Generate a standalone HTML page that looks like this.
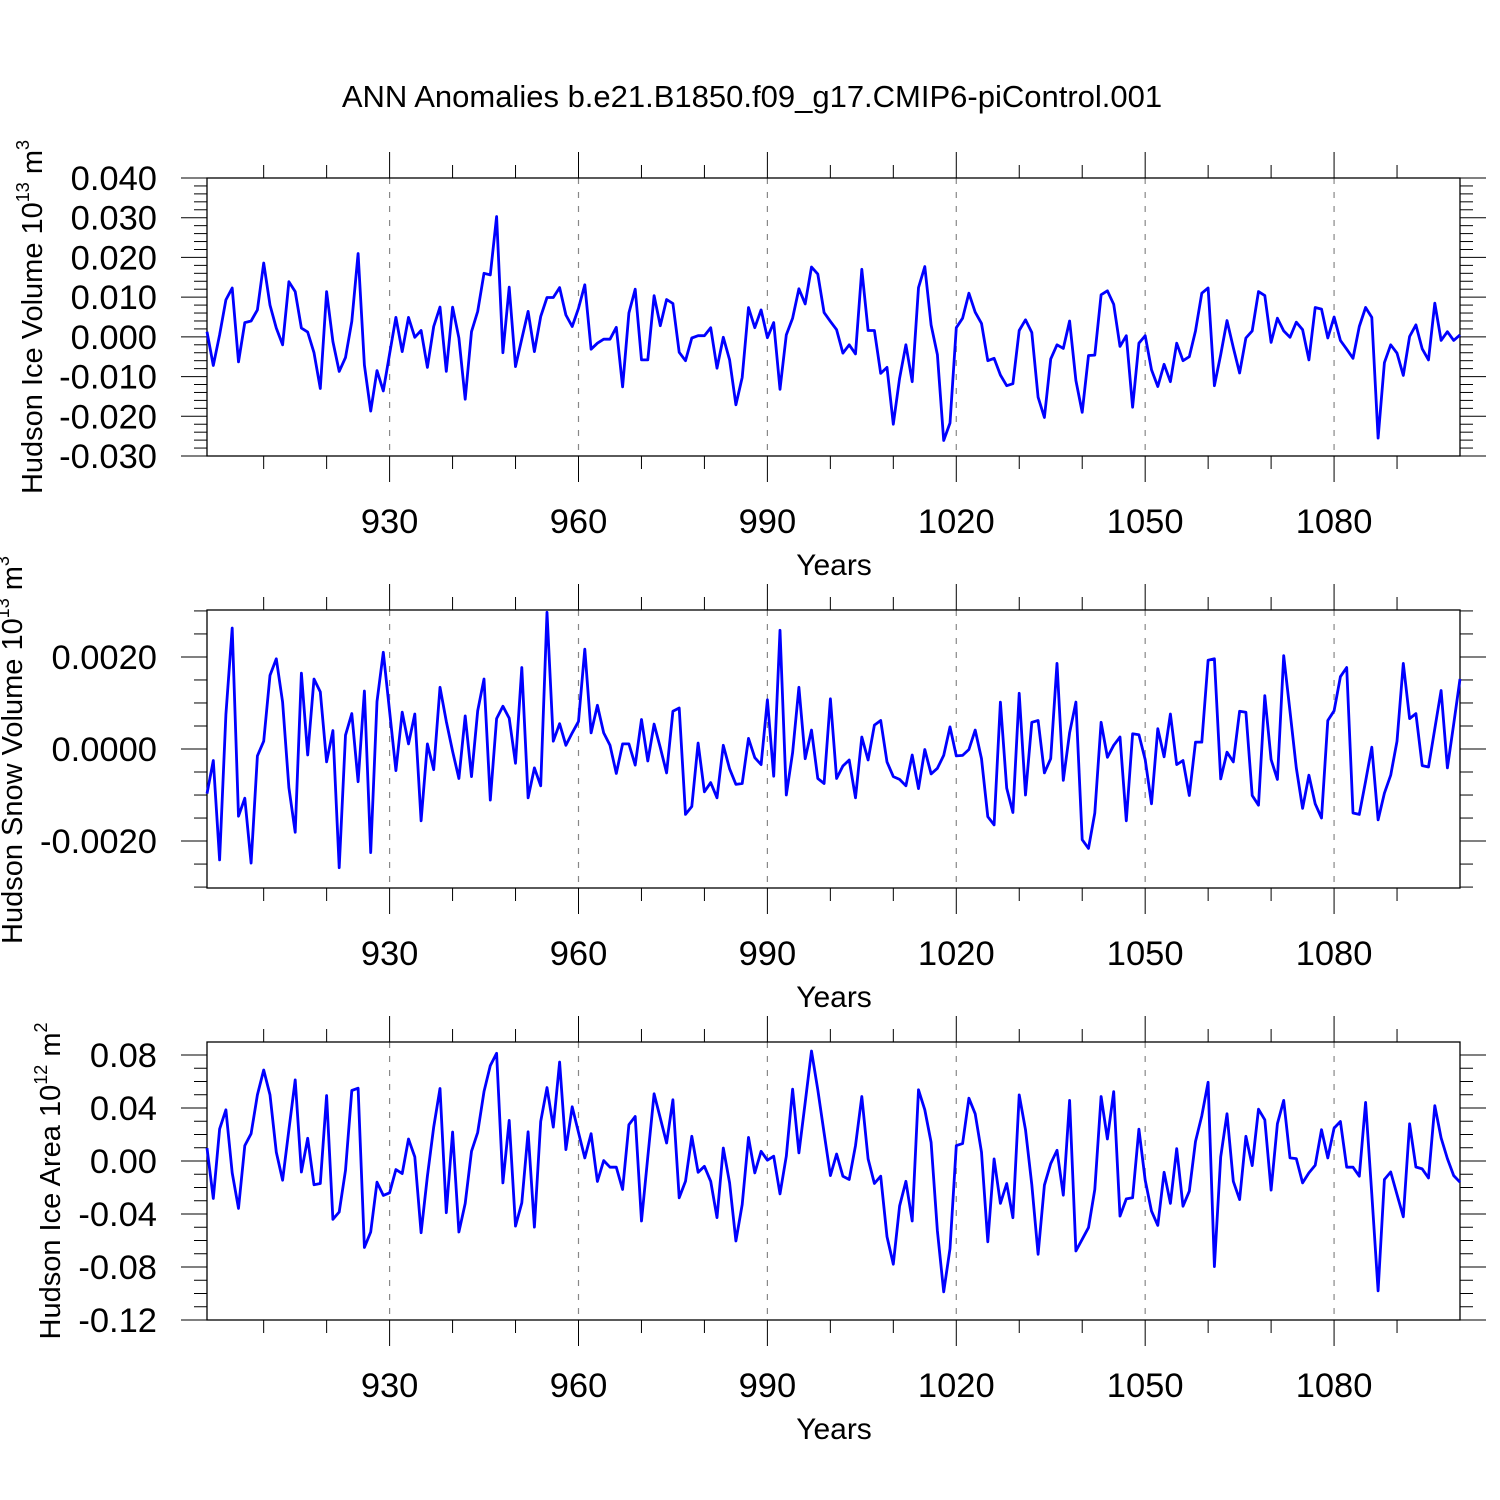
<!DOCTYPE html>
<html><head><meta charset="utf-8"><style>
html,body{margin:0;padding:0;background:#fff;}
svg{display:block;font-family:"Liberation Sans",sans-serif;}
</style></head><body>
<svg id="chart" width="1500" height="1500" viewBox="0 0 1500 1500" xmlns="http://www.w3.org/2000/svg">
<rect width="1500" height="1500" fill="#fff"/>
<text x="752" y="107" font-size="31" text-anchor="middle">ANN Anomalies b.e21.B1850.f09_g17.CMIP6-piControl.001</text>
<g id="panels"></g>
</svg>
<script>
const years = [];
for (let y = 901; y <= 1100; y++) years.push(y);
const xTickLabels = [930, 960, 990, 1020, 1050, 1080];

const iceVolume = [0.0013,-0.0072,0.0005,0.0093,0.0123,-0.0063,0.0036,0.004,0.0068,0.0186,
0.008,0.0022,-0.002,0.0139,0.0114,0.0022,0.0012,-0.004,-0.013,0.0114,
-0.0012,-0.0087,-0.0052,0.0039,0.021,-0.0071,-0.0187,-0.0085,-0.0136,-0.0043,
0.0049,-0.0037,0.0049,-0.0001,0.0016,-0.0077,0.0026,0.0075,-0.0087,0.0075,
-0.0003,-0.0157,0.0013,0.0064,0.016,0.0156,0.0303,-0.004,0.0125,-0.0075,
-0.0005,0.0064,-0.0037,0.0051,0.0099,0.0099,0.0124,0.0055,0.0026,0.0072,
0.0131,-0.0031,-0.0016,-0.0006,-0.0006,0.0024,-0.0126,0.006,0.012,-0.0058,
-0.0058,0.0104,0.0028,0.0094,0.0084,-0.0039,-0.006,-0.0003,0.0003,0.0003,
0.0023,-0.0079,-0.0001,-0.0058,-0.0171,-0.0102,0.0074,0.0023,0.0068,-0.0002,
0.0036,-0.0132,0.0005,0.0047,0.0121,0.0083,0.0176,0.0158,0.0061,0.0039,
0.0018,-0.0041,-0.002,-0.0043,0.017,0.0016,0.0016,-0.0092,-0.0077,-0.022,
-0.0104,-0.002,-0.0113,0.0124,0.0177,0.003,-0.0045,-0.0261,-0.0217,0.0023,
0.0047,0.011,0.0062,0.0034,-0.006,-0.0054,-0.0096,-0.0123,-0.0118,0.0016,
0.0043,0.0011,-0.0152,-0.0203,-0.0056,-0.002,-0.0029,0.004,-0.011,-0.019,
-0.0047,-0.0046,0.0106,0.0116,0.0082,-0.0024,0.0003,-0.0177,-0.0016,0.0003,
-0.0083,-0.0125,-0.0069,-0.0113,-0.0016,-0.006,-0.005,0.0015,0.011,0.0123,
-0.0123,-0.0045,0.0041,-0.0027,-0.0091,-0.0003,0.0015,0.0114,0.0104,-0.0014,
0.0047,0.0015,-0.0001,0.0037,0.0018,-0.0058,0.0074,0.007,-0.0003,0.005,
-0.0009,-0.0031,-0.0054,0.0026,0.0074,0.0049,-0.0255,-0.0065,-0.002,-0.0041,
-0.0097,0.0001,0.003,-0.003,-0.0058,0.0085,-0.0009,0.0013,-0.0009,0.0005];

const snowVolume = [-0.00097,-0.00025,-0.00241,0.00075,0.00263,-0.00146,-0.00107,-0.00248,-0.00015,0.00017,
0.0016,0.00196,0.00102,-0.00084,-0.00181,0.00165,-0.00013,0.00152,0.00124,-0.00028,
0.0004,-0.00258,0.0003,0.00077,-0.00071,0.00126,-0.00225,0.00103,0.0021,0.00082,
-0.00047,0.0008,0.00011,0.00076,-0.00156,0.00011,-0.00045,0.00134,0.0006,-0.00005,
-0.00064,0.00072,-0.0006,0.00083,0.00152,-0.00111,0.00066,0.00093,0.00067,-0.00031,
0.00177,-0.00106,-0.00041,-0.0008,0.00297,0.00017,0.00055,0.00008,0.00035,0.0006,
0.00217,0.00035,0.00095,0.00035,0.00008,-0.00053,0.00011,0.00011,-0.00035,0.00064,
-0.00026,0.00054,0.00003,-0.00052,0.00082,0.00089,-0.00142,-0.00125,0.00013,-0.00093,
-0.00073,-0.00106,0.00008,-0.00043,-0.00077,-0.00075,0.00023,-0.00019,-0.00034,0.00107,
-0.00059,0.00258,-0.001,-0.00008,0.00134,-0.00021,0.00041,-0.00064,-0.00075,0.00109,
-0.00064,-0.00037,-0.00024,-0.00106,0.00026,-0.00024,0.00052,0.00062,-0.00028,-0.0006,
-0.00066,-0.0008,-0.00013,-0.00086,-0.00001,-0.00054,-0.00042,-0.00014,0.00048,-0.00015,
-0.00014,-0.00001,0.00041,-0.00021,-0.00147,-0.00165,0.00102,-0.00085,-0.00138,0.00121,
-0.001,0.00058,0.00062,-0.00052,-0.00021,0.00186,-0.00068,0.00035,0.00102,-0.00197,
-0.00216,-0.00139,0.00058,-0.00018,0.00008,0.00026,-0.00156,0.00033,0.00031,-0.00023,
-0.00119,0.00044,-0.00017,0.00076,-0.00034,-0.00025,-0.00101,0.00015,0.00015,0.00193,
0.00196,-0.00065,-0.00007,-0.00028,0.00082,0.0008,-0.00101,-0.00122,0.00116,-0.00023,
-0.00066,0.00203,0.00082,-0.00041,-0.00129,-0.00057,-0.00119,-0.0015,0.00062,0.00083,
0.00157,0.00177,-0.00139,-0.00142,-0.0007,0.00004,-0.00154,-0.00096,-0.00057,0.00017,
0.00186,0.00066,0.00077,-0.00036,-0.00039,0.00044,0.00127,-0.00041,0.00054,0.00152];

const iceArea = [0.0098,-0.0283,0.0241,0.0386,-0.009,-0.0358,0.0116,0.0206,0.0499,0.0687,
0.0499,0.0066,-0.0145,0.0236,0.0612,-0.0083,0.0171,-0.018,-0.017,0.0494,
-0.044,-0.0385,-0.007,0.0532,0.0549,-0.0653,-0.0536,-0.016,-0.026,-0.024,
-0.0065,-0.0095,0.0166,0.0031,-0.0541,-0.0115,0.0256,0.0547,-0.039,0.0219,
-0.0536,-0.032,0.0073,0.0216,0.0524,0.072,0.0813,-0.0165,0.0306,-0.0491,
-0.0316,0.022,-0.0499,0.0298,0.0554,0.0256,0.0747,0.0086,0.0409,0.0216,
0.0023,0.0206,-0.0155,0.0003,-0.0047,-0.0047,-0.0215,0.0274,0.0336,-0.0453,
0.0031,0.0507,0.0324,0.0136,0.0462,-0.0278,-0.0153,0.0186,-0.0085,-0.004,
-0.0153,-0.0427,0.0098,-0.0165,-0.0604,-0.0328,0.0178,-0.009,0.0073,0.0006,
0.0036,-0.0248,0.0036,0.0542,0.0061,0.0442,0.083,0.0537,0.0211,-0.011,
0.0053,-0.0115,-0.014,0.0116,0.0487,0.0016,-0.017,-0.0115,-0.0571,-0.0779,
-0.034,-0.0153,-0.0453,0.0537,0.0386,0.0141,-0.0528,-0.0987,-0.0661,0.0116,
0.0131,0.0474,0.0356,0.0066,-0.061,0.0016,-0.032,-0.017,-0.0428,0.0499,
0.0236,-0.0178,-0.0704,-0.0183,-0.002,0.0081,-0.0258,0.0457,-0.0679,-0.0591,
-0.0503,-0.0215,0.0487,0.0166,0.0524,-0.0416,-0.0286,-0.0278,0.0241,-0.0145,
-0.0378,-0.0486,-0.0085,-0.032,0.0093,-0.0341,-0.0228,0.0148,0.0341,0.0594,
-0.0797,0.0031,0.0356,-0.0153,-0.0291,0.0186,-0.0035,0.0391,0.0311,-0.022,
0.0281,0.0457,0.0023,0.0018,-0.0165,-0.009,-0.0032,0.0236,0.0023,0.0248,
0.0298,-0.0047,-0.0047,-0.0115,0.0442,-0.025,-0.098,-0.014,-0.0083,-0.0253,
-0.0421,0.0281,-0.0045,-0.006,-0.0128,0.0417,0.0174,0.0018,-0.011,-0.016];

const NS = "http://www.w3.org/2000/svg";
const root = document.getElementById("panels");
function el(tag, attrs, parent) {
  const e = document.createElementNS(NS, tag);
  for (const k in attrs) e.setAttribute(k, attrs[k]);
  (parent || root).appendChild(e);
  return e;
}
const X0 = 207, X1 = 1460, YR0 = 901, YR1 = 1100;
function xScale(yr) { return X0 + (yr - YR0) * (X1 - X0) / (YR1 - YR0); }

const panels = [
  {name:"ice-volume", top:178, bottom:456, vmin:-0.030, vmax:0.040, major:0.01, minor:0.002, labelStep:0.01, dec:3, data:iceVolume,
   title:["Hudson Ice Volume 10","13"," m","3"], tx:42, ty:317},
  {name:"snow-volume", top:610, bottom:888, vmin:-0.00302, vmax:0.00302, major:0.002, minor:0.0005, labelStep:0.002, dec:4, data:snowVolume,
   title:["Hudson Snow Volume 10","13"," m","3"], tx:22, ty:750},
  {name:"ice-area", top:1042, bottom:1320, vmin:-0.12, vmax:0.0898, major:0.04, minor:0.01, labelStep:0.04, dec:2, data:iceArea,
   title:["Hudson Ice Area 10","12"," m","2"], tx:60, ty:1181}
];

panels.forEach(p => {
  const g = el("g", {});
  
  
  const yScale = v => p.bottom - (v - p.vmin) * (p.bottom - p.top) / (p.vmax - p.vmin);
  xTickLabels.forEach(t => {
    const l = el("line", {x1:xScale(t), x2:xScale(t), y1:p.top, y2:p.bottom, stroke:"#888", "stroke-width":1.2, "stroke-dasharray":"6,8"}, g);
    
    
  });
  for (let t = 910; t <= 1100; t += 10) {
    const xx = xScale(t);
    const len = (t % 30 === 0) ? 26 : 13;
    if (t < 1100) {
      el("line", {x1:xx, x2:xx, y1:p.top, y2:p.top - len, stroke:"#000", "stroke-width":1}, g);
      el("line", {x1:xx, x2:xx, y1:p.bottom, y2:p.bottom + len, stroke:"#000", "stroke-width":1}, g);
    }
  }
  xTickLabels.forEach(t => {
    const tx = el("text", {x:xScale(t), y:p.bottom + 77, "font-size":34.5, "text-anchor":"middle"}, g);
    tx.textContent = t;
    
    
  });
  const xt = el("text", {x:834, y:p.bottom + 119, "font-size":30, "text-anchor":"middle"}, g);
  xt.textContent = "Years";
  
  
  const nMin = Math.ceil(p.vmin / p.minor - 1e-6), nMax = Math.floor(p.vmax / p.minor + 1e-6);
  for (let i = nMin; i <= nMax; i++) {
    const v = i * p.minor;
    const yy = yScale(v);
    const isMaj = Math.abs(v / p.major - Math.round(v / p.major)) < 1e-6;
    const len = isMaj ? 26 : 13;
    el("line", {x1:X0, x2:X0 - len, y1:yy, y2:yy, stroke:"#000", "stroke-width":1}, g);
    el("line", {x1:X1, x2:X1 + len, y1:yy, y2:yy, stroke:"#000", "stroke-width":1}, g);
    if (isMaj && Math.abs(v / p.labelStep - Math.round(v / p.labelStep)) < 1e-6) {
      const tl = el("text", {x:157, y:yy + 12, "font-size":34.5, "text-anchor":"end"}, g);
      tl.textContent = (Math.abs(v) < 1e-12 ? 0 : v).toFixed(p.dec);
      
      
    }
  }
  const fr = el("rect", {x:X0, y:p.top, width:X1 - X0, height:p.bottom - p.top, fill:"none", stroke:"#000", "stroke-width":1.3}, g);
  
  
  const pts = p.data.map((v, i) => xScale(years[i]).toFixed(1) + "," + yScale(v).toFixed(1)).join(" ");
  const pl = el("polyline", {points:pts, fill:"none", stroke:"#0000ff", "stroke-width":2.8, "stroke-linejoin":"round"}, g);
  
  
  const yt = el("text", {x:0, y:0, "font-size":29, "text-anchor":"middle", transform:"translate(" + p.tx + "," + p.ty + ") rotate(-90)"}, g);
  
  
  const parts = p.title;
  const s1 = el("tspan", {}, yt); s1.textContent = parts[0];
  const s2 = el("tspan", {dy:-13, "font-size":18}, yt); s2.textContent = parts[1];
  const s3 = el("tspan", {dy:13}, yt); s3.textContent = parts[2];
  const s4 = el("tspan", {dy:-13, "font-size":18}, yt); s4.textContent = parts[3];
});
</script>
</body></html>
